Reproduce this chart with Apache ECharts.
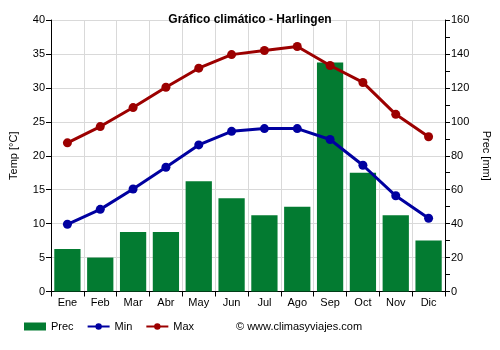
<!DOCTYPE html>
<html><head><meta charset="utf-8">
<script src="https://cdn.jsdelivr.net/npm/echarts@6/dist/echarts.min.js"></script>
<style>html,body{margin:0;padding:0;background:#fff}#c{width:500px;height:350px}</style>
</head><body><div id="c"></div>
<script>
const months = ['Ene','Feb','Mar','Abr','May','Jun','Jul','Ago','Sep','Oct','Nov','Dic'];
const prec = [25, 20, 35, 35, 65, 55, 45, 50, 135, 70, 45, 30];
const tmin = [9.9, 12.1, 15.1, 18.3, 21.6, 23.6, 24.0, 24.0, 22.4, 18.6, 14.1, 10.8];
const tmax = [21.9, 24.3, 27.1, 30.1, 32.9, 34.9, 35.5, 36.1, 33.3, 30.8, 26.1, 22.8];

const FONT = 'Liberation Sans, Arial, sans-serif';
const chart = echarts.init(document.getElementById('c'), null, {renderer:'canvas'});
chart.setOption({
  animation:false,
  backgroundColor:'#fff',
  textStyle:{fontFamily:FONT},
  title:{text:'Gráfico climático - Harlingen',left:'center',top:9,
    textStyle:{fontSize:12,fontWeight:'bold',color:'#000',fontFamily:FONT}},
  grid:{left:50,right:55,top:20,bottom:58.5,containLabel:false},
  legend:{left:19,top:316,itemGap:13,itemWidth:22,itemHeight:8,
    textStyle:{fontSize:11,color:'#000',fontFamily:FONT},
    data:[{name:'Prec',icon:'rect'},{name:'Min'},{name:'Max'}]},
  graphic:[{type:'text',left:236,top:321,style:{text:'© www.climasyviajes.com',fontSize:11,fill:'#000',fontFamily:FONT}}],
  xAxis:{type:'category',data:months,boundaryGap:true,
    axisLine:{lineStyle:{color:'#000',width:1}},
    axisTick:{show:true,length:5,lineStyle:{color:'#000'}},
    axisLabel:{fontSize:11,color:'#000',margin:6,fontFamily:FONT},
    splitLine:{show:true,lineStyle:{color:'#d9d9d9',width:1}}},
  yAxis:[
    {type:'value',min:0,max:40,interval:5,position:'left',
     name:'Temp [°C]',nameLocation:'middle',nameGap:32,nameRotate:90,
     nameTextStyle:{fontSize:11,color:'#000',fontFamily:FONT},
     axisLine:{show:true,lineStyle:{color:'#000'}},
     axisTick:{show:true,length:5,lineStyle:{color:'#000'}},
     axisLabel:{fontSize:11,color:'#000',margin:6,fontFamily:FONT},
     splitLine:{show:true,lineStyle:{color:'#d9d9d9',width:1}}},
    {type:'value',min:0,max:160,interval:20,position:'right',
     name:'Prec [mm]',nameLocation:'middle',nameGap:34,nameRotate:-90,
     nameTextStyle:{fontSize:11,color:'#000',fontFamily:FONT},
     axisLine:{show:true,lineStyle:{color:'#000'}},
     axisTick:{show:true,length:5,lineStyle:{color:'#000'}},
     minorTick:{show:true,splitNumber:2,length:5,lineStyle:{color:'#000'}},
     axisLabel:{fontSize:11,color:'#000',margin:6,fontFamily:FONT},
     splitLine:{show:false}}
  ],
  series:[
    {name:'Prec',type:'bar',yAxisIndex:1,data:prec,barCategoryGap:'20%',
     itemStyle:{color:'#037b31'},z:1},
    {name:'Min',type:'line',yAxisIndex:0,data:tmin,symbol:'circle',symbolSize:9,
     lineStyle:{color:'#0000a0',width:3},itemStyle:{color:'#0000a0'},z:3},
    {name:'Max',type:'line',yAxisIndex:0,data:tmax,symbol:'circle',symbolSize:9,
     lineStyle:{color:'#9c0000',width:3},itemStyle:{color:'#9c0000'},z:3}
  ]
});
</script></body></html>
